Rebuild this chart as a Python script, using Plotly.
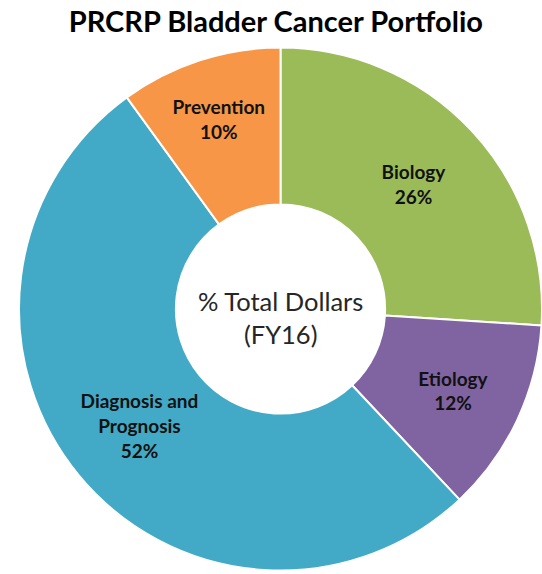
import plotly.graph_objects as go

# data
categories = ["Biology", "Etiology", "Diagnosis and<br>Prognosis", "Prevention"]
percent_values = [26, 12, 52, 10]
slice_colors = ["#9BBB59", "#8064A2", "#42AAC6", "#F79646"]

fig = go.Figure()

fig.add_trace(go.Pie(
    labels=categories,
    values=percent_values,
    sort=False,
    direction="clockwise",
    rotation=0,
    hole=0.4,
    marker=dict(colors=slice_colors, line=dict(color="white", width=2)),
    texttemplate="<b>%{label}<br>%{value}%</b>",
    textposition="inside",
    insidetextorientation="horizontal",
    textfont=dict(family="Lato", size=19, color="#111111"),
    showlegend=False,
))

fig.update_layout(
    width=542,
    height=574,
    paper_bgcolor="white",
    plot_bgcolor="white",
    margin=dict(l=19, r=0, t=45, b=1),
    title=dict(
        text="<b>PRCRP Bladder Cancer Portfolio</b>",
        x=0.509,
        xanchor="center",
        y=0.962,
        yanchor="middle",
        font=dict(family="Lato", size=29, color="black"),
    ),
    annotations=[
        dict(
            text="% Total Dollars<br>(FY16)",
            x=0.5,
            y=0.483,
            xref="paper",
            yref="paper",
            showarrow=False,
            font=dict(family="Lato", size=25.5, color="#262626"),
        )
    ],
)

# drop the default 8px body margin so the figure fills the window
fig.write_html(
    "out.html",
    config={"displayModeBar": False},
    post_script="document.body.style.margin='0px';",
)
